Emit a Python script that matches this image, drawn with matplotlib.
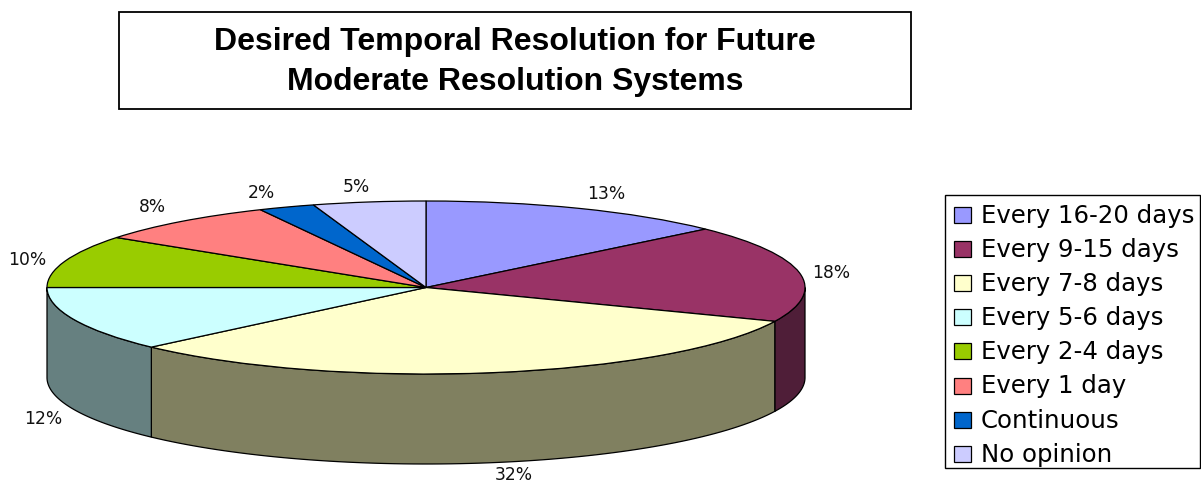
import numpy as np
import matplotlib
matplotlib.use('Agg')
import matplotlib.pyplot as plt
from matplotlib.patches import Rectangle, Polygon

plt.rcParams['font.family'] = ['DejaVu Sans']

labels = ['Every 16-20 days', 'Every 9-15 days', 'Every 7-8 days', 'Every 5-6 days',
          'Every 2-4 days', 'Every 1 day', 'Continuous', 'No opinion']
# slice sizes, the printed percents are rounded
shares = [13.2, 18.2, 31.5, 12.1, 9.8, 8.0, 2.4, 4.8]
percent_labels = ['13%', '18%', '32%', '12%', '10%', '8%', '2%', '5%']
colors = ['#9999FF', '#993366', '#FFFFCC', '#CCFFFF', '#99CC00', '#FF8080', '#0066CC', '#CCCCFF']
side_colors = ['#5C5C99', '#4F1E38', '#808060', '#668080', '#668000', '#995050', '#004080', '#808099']
title_lines = 'Desired Temporal Resolution for Future\nModerate Resolution Systems'

W, H = 1201, 485
fig = plt.figure(figsize=(W / 100, H / 100), dpi=100)

# background axes in pixel coordinates for the boxes and the text
bg = fig.add_axes([0, 0, 1, 1])
bg.set_xlim(0, W)
bg.set_ylim(H, 0)
bg.axis('off')

# pie axes: one data unit is the radius of the ellipse
cx, cy, rx, ry, depth = 426, 288.5, 379, 86.5, 90
ax = fig.add_axes([(cx - rx) / W, 1 - (cy + ry) / H, 2 * rx / W, 2 * ry / H])
ax.patch.set_alpha(0)

cum = np.cumsum([0] + shares) / sum(shares) * 2 * np.pi
d = depth / ry

# side walls, only the front half is visible
for i in range(len(shares)):
    a0, a1 = max(cum[i], np.pi / 2), min(cum[i + 1], 3 * np.pi / 2)
    if a1 <= a0:
        continue
    t = np.linspace(a0, a1, 80)
    x, y = np.sin(t), np.cos(t)
    pts = np.r_[np.c_[x, y], np.c_[x[::-1], y[::-1] - d]]
    ax.add_patch(Polygon(pts, closed=True, facecolor=side_colors[i], edgecolor='black',
                         linewidth=0.9, clip_on=False, zorder=1))

wedges, _ = ax.pie(shares, colors=colors, startangle=90, counterclock=False, radius=1,
                   wedgeprops={'edgecolor': 'black', 'linewidth': 0.9})
for w in wedges:
    w.set_clip_on(False)
    w.set_zorder(2)
ax.set_aspect('auto')
ax.set_xlim(-1, 1)
ax.set_ylim(-1, 1)
ax.axis('off')

# percent labels
label_pos = [(606, 194), (831, 273), (514, 475), (43, 419), (27, 260), (152, 207), (261, 193), (356, 187)]
for s, (px, py) in zip(percent_labels, label_pos):
    bg.text(px, py, s, fontsize=12.3, ha='center', va='center', color='#111111')

# title box
bg.add_patch(Rectangle((119, 13), 792, 97, facecolor='white', edgecolor='black', linewidth=1.3))
bg.text(515, 62, title_lines, fontsize=23, fontweight='bold', ha='center', va='center',
        linespacing=1.42, family='Liberation Sans')

# legend
bg.add_patch(Rectangle((945, 196), 255, 273, facecolor='white', edgecolor='black', linewidth=1))
for i, name in enumerate(labels):
    y = 216 + i * 34.1
    bg.add_patch(Rectangle((954, y - 8), 17, 16, facecolor=colors[i], edgecolor='black', linewidth=0.9))
    bg.text(981, y, name, fontsize=17.6, ha='left', va='center')

fig.savefig('out.png', dpi=100)
